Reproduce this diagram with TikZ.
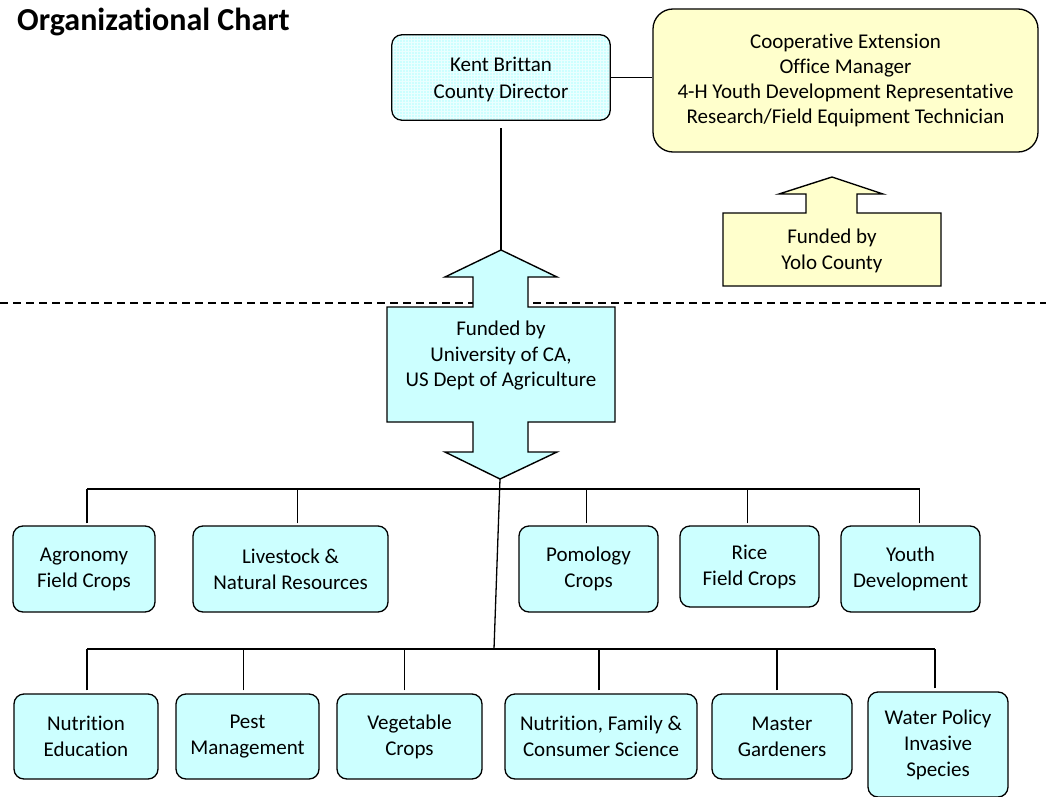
\documentclass[tikz,border=0pt]{standalone}
\usepackage{fontspec}
\setmainfont{Carlito}[Ligatures={NoCommon}]
\usetikzlibrary{calc}
\definecolor{cyanfill}{HTML}{CCFFFF}
\definecolor{yelfill}{HTML}{FFFFCC}
\tikzset{
  unitbox/.style={draw=black, line width=1.3pt, rounded corners=10pt, fill=cyanfill, align=center,
    font=\fontsize{21}{26}\selectfont, inner sep=0pt},
  conn/.style={draw=black, line width=1.3pt},
  bigarrow/.style={draw=black, line width=1.4pt, line join=miter},
  txt/.style={align=center, font=\fontsize{21}{25.5}\selectfont, inner sep=0pt},
}
\begin{document}
\begin{tikzpicture}[x=1pt,y=-1pt]
\useasboundingbox (0,0) rectangle (1046,797);
% title
\node[anchor=base west, inner sep=0pt, font=\bfseries\fontsize{32}{36}\selectfont] (title) at (17,31) {Organizational Chart};
% dashed line
\draw[line width=1.2pt, dash pattern=on 8pt off 5pt] (0,303) -- (1046,303);
% director
\node[draw=none, fill=cyanfill, rounded corners=10pt, minimum width=218pt, minimum height=85pt, inner sep=0pt] (kent) at (501,77.5) {};
\begin{scope}
\clip[rounded corners=10pt] (kent.south west) rectangle (kent.north east);
\draw[white, line width=0.4pt, opacity=0.6, step=3pt] (kent.south west) grid (kent.north east);
\end{scope}
\draw[draw=black, line width=1.3pt, rounded corners=10pt] (kent.south west) rectangle (kent.north east);
\node[txt, font=\fontsize{21}{27}\selectfont] (kenttxt) at ([yshift=-1.5pt]kent.center) {Kent Brittan\\County Director};
% coop box
\node[draw=black, line width=1.3pt, rounded corners=20pt, fill=yelfill, minimum width=385pt, minimum height=143pt, align=center, inner sep=0pt, font=\fontsize{21}{25.3}\selectfont] (coop) at (845.5,80.5)
  {Cooperative Extension\\Office Manager\\4-H Youth Development Representative\\Research/Field Equipment Technician};
\draw[conn] (kent.east) -- (kent.east -| coop.west);
% blue double arrow
\coordinate (utip) at (501,250);
\coordinate (dtip) at (500,479);
\filldraw[bigarrow, fill=cyanfill] (utip) -- (557,277) -- (528,277) -- (528,307) -- (615,307) -- (615,422) -- (528,422) -- (528,452) -- (557,452) -- (dtip) -- (445,452) -- (473,452) -- (473,422) -- (387,422) -- (387,307) -- (473,307) -- (473,277) -- (445,277) -- cycle;
\node[txt] (uc) at (501,356) {Funded by\\University of CA,\\US Dept of Agriculture};
\draw[conn] ([yshift=-8pt]kent.south) -- (utip);
% yellow up arrow
\coordinate (ytip) at (832,177);
\filldraw[bigarrow, fill=yelfill] (ytip) -- (883,194) -- (857,194) -- (857,213) -- (941,213) -- (941,286) -- (723,286) -- (723,213) -- (806,213) -- (806,194) -- (779,194) -- cycle;
\node[txt] (yolo) at (832,251) {Funded by\\Yolo County};
% row 1
\node[unitbox, minimum width=142pt, minimum height=86pt] (agr) at (84,569) {Agronomy\\Field Crops};
\node[unitbox, minimum width=195pt, minimum height=86pt] (live) at (290.5,569) {Livestock \&\\Natural Resources};
\node[unitbox, minimum width=139pt, minimum height=86pt] (pom) at (588.5,569) {Pomology\\Crops};
\node[unitbox, minimum width=139pt, minimum height=81pt] (rice) at (749.5,566.5) {Rice\\Field Crops};
\node[unitbox, minimum width=139pt, minimum height=86pt] (youth) at (910.5,569) {Youth\\Development};
% row 2
\node[unitbox, minimum width=144pt, minimum height=85pt] (nutr) at (86,736.5) {Nutrition\\Education};
\node[unitbox, minimum width=143pt, minimum height=85pt] (pest) at (247.5,736.5) {Pest\\Management};
\node[unitbox, minimum width=145pt, minimum height=85pt] (veg) at (409.5,736.5) {Vegetable\\Crops};
\node[unitbox, minimum width=192pt, minimum height=85pt] (nfc) at (601,736.5) {Nutrition, Family \&\\Consumer Science};
\node[unitbox, minimum width=140pt, minimum height=85pt] (mast) at (782,736.5) {Master\\Gardeners};
\node[unitbox, minimum width=140pt, minimum height=105pt] (water) at (938,744.5) {Water Policy\\Invasive\\Species};
% buses
\coordinate (bus1) at (496,489);
\coordinate (bus2) at (494,649);
\draw[conn] (dtip) -- (bus2);
\draw[conn] ([xshift=3pt]agr.north |- bus1) -- ([xshift=9pt]youth.north |- bus1);
\foreach \n/\dx in {agr/3, live/7, pom/-2, rice/-2, youth/9}{
  \draw[conn] ([xshift=\dx pt,yshift=2pt]\n.north) -- ([xshift=\dx pt]\n.north |- bus1);
}
\draw[conn] ([xshift=1pt]nutr.north |- bus2) -- ([xshift=-3pt]water.north |- bus2);
\foreach \n/\dx in {nutr/1, pest/-4, veg/-5, nfc/-2, mast/-5, water/-3}{
  \draw[conn] ([xshift=\dx pt,yshift=3pt]\n.north) -- ([xshift=\dx pt]\n.north |- bus2);
}
\end{tikzpicture}
\end{document}
